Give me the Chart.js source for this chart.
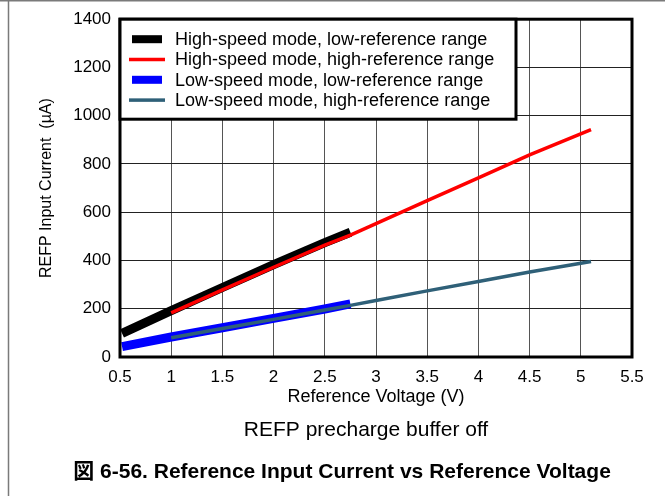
<!DOCTYPE html>
<html>
<head>
<meta charset="utf-8">
<script src="https://cdn.jsdelivr.net/npm/chart.js@4.4.0/dist/chart.umd.min.js"></script>
<style>
  html, body { margin: 0; padding: 0; background: #fff; }
  canvas { display: block; }
</style>
</head>
<body>
<canvas id="refCurrent" width="665" height="496"></canvas>
<script>
// values (V -> uA)
const hsLowV = [0.52, 1, 1.5, 2, 2.5, 2.75];
const hsLowI = [98, 192, 288, 383, 474, 517];

const hsHighV = [1, 1.5, 2, 2.5, 2.75, 3, 3.5, 4, 4.5, 5.1];
const hsHighI = [183, 278, 372, 464, 505, 553, 648, 742, 838, 942];

const lsLowV = [0.52, 1, 1.5, 2, 2.5, 2.75];
const lsLowI = [43, 83, 121, 160, 199, 220];

const lsHighV = [1, 1.5, 2, 2.5, 2.75, 3, 3.5, 4, 4.5, 5.1];
const lsHighI = [80, 118, 156, 195, 214, 234, 274, 313, 352, 396];

const seriesNames = [
  'High-speed mode, low-reference range',
  'High-speed mode, high-reference range',
  'Low-speed mode, low-reference range',
  'Low-speed mode, high-reference range'
];

const xTickLabels = ['0.5', '1', '1.5', '2', '2.5', '3', '3.5', '4', '4.5', '5', '5.5'];
const yTickLabels = ['0', '200', '400', '600', '800', '1000', '1200', '1400'];

const FONT = "'Liberation Sans', Arial, 'Noto Sans CJK JP', sans-serif";

function points(xs, ys) {
  return xs.map((x, i) => ({ x: x, y: ys[i] }));
}

// white page, thin grey frame on top and left, like the datasheet crop
const pageFrame = {
  id: 'pageFrame',
  beforeDraw(chart) {
    const ctx = chart.ctx;
    ctx.save();
    ctx.fillStyle = '#fff';
    ctx.fillRect(0, 0, chart.width, chart.height);
    ctx.strokeStyle = '#7a7a7a';
    ctx.lineWidth = 1.5;
    ctx.beginPath();
    ctx.moveTo(0, 0.75);
    ctx.lineTo(chart.width, 0.75);
    ctx.moveTo(8.5, 0);
    ctx.lineTo(8.5, chart.height);
    ctx.stroke();
    ctx.restore();
  }
};

// plot border, boxed legend and the two captions under the axis
const boxAndText = {
  id: 'boxAndText',
  afterDraw(chart) {
    const ctx = chart.ctx;
    const area = chart.chartArea;
    ctx.save();

    ctx.strokeStyle = '#000';
    ctx.lineWidth = 3;
    ctx.strokeRect(area.left, area.top, area.right - area.left, area.bottom - area.top);

    // legend
    const lx = area.left, ly = area.top, lw = 396, lh = 100;
    ctx.fillStyle = '#fff';
    ctx.fillRect(lx, ly, lw, lh);
    ctx.strokeRect(lx, ly, lw, lh);

    ctx.font = '18px ' + FONT;
    ctx.textBaseline = 'middle';
    ctx.textAlign = 'left';
    chart.data.datasets.forEach((ds, i) => {
      const cy = ly + 20 + i * 20.3;
      ctx.fillStyle = ds.borderColor;
      if (ds.borderWidth > 5) {
        ctx.fillRect(lx + 12, cy - 4, 30, 8);
      } else {
        ctx.fillRect(lx + 9, cy - 1.75, 36, 3.5);
      }
      ctx.fillStyle = '#000';
      ctx.fillText(ds.label, lx + 55, cy + 1);
    });

    ctx.textAlign = 'center';
    ctx.fillStyle = '#000';
    ctx.font = '21px ' + FONT;
    ctx.fillText('REFP precharge buffer off', 366, 430);
    ctx.font = 'bold 21px ' + FONT;
    ctx.fillText('図 6-56. Reference Input Current vs Reference Voltage', 342, 472);

    ctx.restore();
  }
};

const ctx = document.getElementById('refCurrent').getContext('2d');

new Chart(ctx, {
  type: 'line',
  data: {
    datasets: [
      {
        label: seriesNames[0],
        data: points(hsLowV, hsLowI),
        borderColor: '#000000',
        borderWidth: 9,
        order: 1
      },
      {
        label: seriesNames[1],
        data: points(hsHighV, hsHighI),
        borderColor: '#ff0000',
        borderWidth: 3.5,
        order: 0
      },
      {
        label: seriesNames[2],
        data: points(lsLowV, lsLowI),
        borderColor: '#0000ff',
        borderWidth: 9,
        order: 1
      },
      {
        label: seriesNames[3],
        data: points(lsHighV, lsHighI),
        borderColor: '#2f6078',
        borderWidth: 3.5,
        order: 0
      }
    ]
  },
  options: {
    responsive: false,
    devicePixelRatio: 1,
    animation: false,
    layout: {
      padding: { top: 18, right: 33, left: 0, bottom: 0 }
    },
    elements: {
      point: { radius: 0 },
      line: { tension: 0, fill: false, borderCapStyle: 'butt' }
    },
    plugins: {
      legend: { display: false },
      tooltip: { enabled: false }
    },
    scales: {
      x: {
        type: 'linear',
        min: 0.5,
        max: 5.5,
        afterFit: (scale) => { scale.height = 139; },
        ticks: {
          stepSize: 0.5,
          color: '#000',
          padding: 10,
          maxRotation: 0,
          font: { family: FONT, size: 17 },
          callback: (value, index) => xTickLabels[index]
        },
        grid: { color: '#555', lineWidth: 1, drawTicks: false },
        border: { display: false },
        title: {
          display: true,
          text: 'Reference Voltage (V)',
          color: '#000',
          font: { family: FONT, size: 18 },
          padding: { top: 0, bottom: 88 }
        }
      },
      y: {
        min: 0,
        max: 1400,
        afterFit: (scale) => { scale.width = 120; },
        ticks: {
          stepSize: 200,
          color: '#000',
          padding: 9,
          font: { family: FONT, size: 17 },
          callback: (value) => yTickLabels[Math.round(value / 200)]
        },
        grid: { color: '#222', lineWidth: 1, drawTicks: false },
        border: { display: false },
        title: {
          display: true,
          text: 'REFP Input Current  (\u00b5A)',
          color: '#000',
          font: { family: FONT, size: 16 },
          padding: { top: 37, bottom: 0 }
        }
      }
    }
  },
  plugins: [pageFrame, boxAndText]
});
</script>
</body>
</html>
